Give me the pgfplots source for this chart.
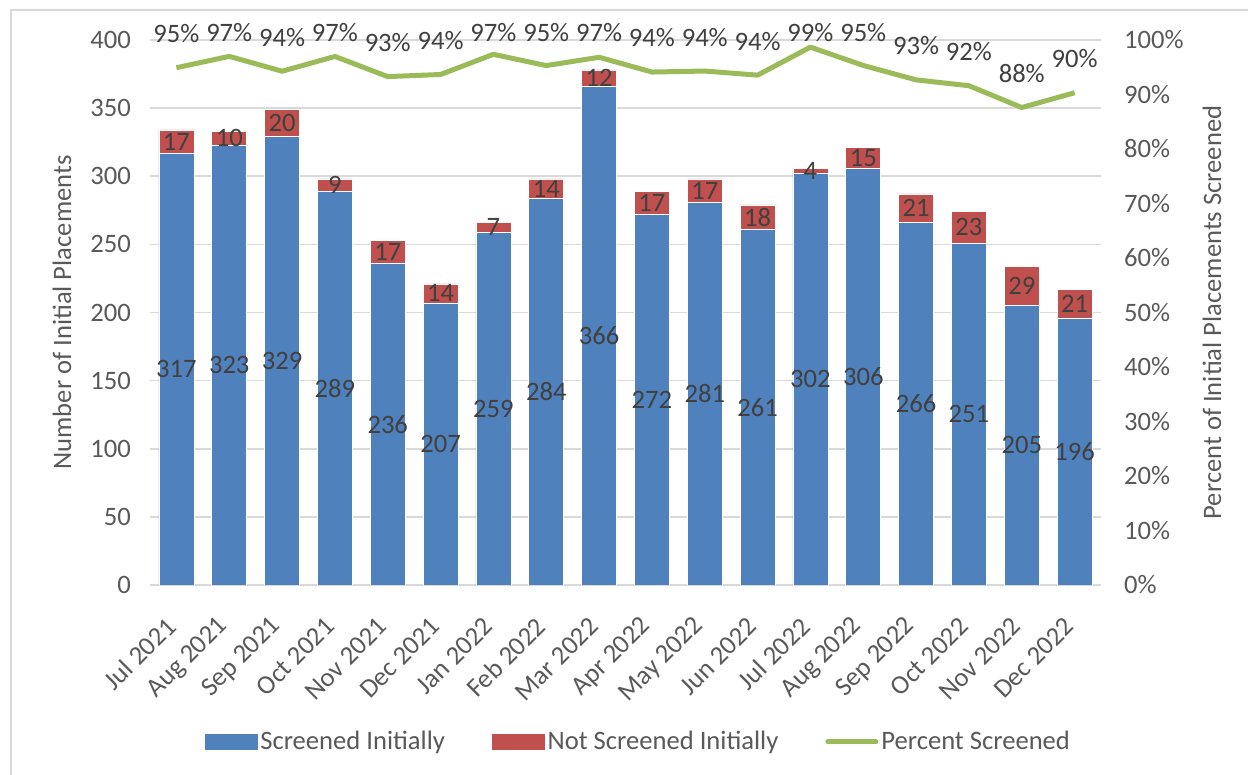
\documentclass[border=0pt]{standalone}
\usepackage{pgfplots}
\usepackage{pgfplotstable}
\pgfplotsset{compat=1.18}
\usepackage{fontspec}
\setmainfont{Carlito}
\definecolor{blueC}{HTML}{4F81BD}
\definecolor{redC}{HTML}{C0504D}
\definecolor{greenC}{HTML}{9BBB59}
\definecolor{txt}{HTML}{595959}
\definecolor{lbl}{HTML}{404040}
\definecolor{grid}{HTML}{D9D9D9}
\newcommand{\chartfont}{\fontsize{13.3}{16}\selectfont}
\pgfplotstableread{
x s n p
0 317 17 94.91
1 323 10 97.00
2 329 20 94.27
3 289 9 96.98
4 236 17 93.28
5 207 14 93.67
6 259 7 97.37
7 284 14 95.30
8 366 12 96.83
9 272 17 94.12
10 281 17 94.30
11 261 18 93.55
12 302 4 98.69
13 306 15 95.33
14 266 21 92.68
15 251 23 91.61
16 205 29 87.61
17 196 21 90.32
}\datatable
\pgfplotsset{
  /pgf/number format/assume math mode=true,
  common/.style={
    width=475.5pt, height=272.5pt, scale only axis,
    at={(0,0)}, anchor=south west,
    xmin=-0.5, xmax=17.5,
  },
}
\begin{document}
\begin{tikzpicture}
\path[use as bounding box] (-75pt,-95pt) rectangle (549pt,292.5pt);
\draw[grid, line width=0.8pt] (-69.5pt,-95pt) -- (-69.5pt,287.5pt) -- (549pt,287.5pt);
% bars
\begin{axis}[common,
  ybar stacked, bar width=17.5pt,
  ymin=0, ymax=400, ytick={0,50,...,400},
  axis lines*=left,
  y axis line style={draw=none},
  x axis line style={draw=grid, line width=0.8pt},
  tick style={draw=none},
  ymajorgrids, major grid style={draw=grid, line width=0.8pt},
  xtick={0,...,17},
  xticklabels={Jul 2021,Aug 2021,Sep 2021,Oct 2021,Nov 2021,Dec 2021,Jan 2022,Feb 2022,Mar 2022,Apr 2022,May 2022,Jun 2022,Jul 2022,Aug 2022,Sep 2022,Oct 2022,Nov 2022,Dec 2022},
  xticklabel style={font=\chartfont, color=txt, rotate=45, anchor=east, inner sep=0pt, xshift=-14.85pt, yshift=-11.3pt},
  yticklabel style={font=\chartfont, color=txt, xshift=-6pt},
  ylabel={Number of Initial Placements},
  ylabel style={font=\chartfont, color=txt, at={(axis description cs:-0.0925,0.5)}, anchor=center},
  legend style={at={(axis description cs:0.514,-0.288)}, anchor=center, draw=none, font=\chartfont, text=txt,
    legend columns=3, nodes={inner sep=1.5pt},
    /tikz/column 2/.style={column sep=22pt}, /tikz/column 4/.style={column sep=22pt}},
]
\addplot[fill=blueC, draw=white, line width=0.3pt,
  legend image code/.code={\fill[blueC] (0pt,-3.75pt) rectangle (26pt,3.75pt);}]
  table[x=x, y=s] {\datatable};
\addlegendentry{Screened Initially}
\addplot[fill=redC, draw=white, line width=0.3pt,
  legend image code/.code={\fill[redC] (0pt,-3.75pt) rectangle (26pt,3.75pt);}]
  table[x=x, y=n] {\datatable};
\addlegendentry{Not Screened Initially}
\addlegendimage{legend image code/.code={\draw[greenC, line width=2.5pt, line cap=round] (0pt,0pt) -- (24pt,0pt);}}
\addlegendentry{Percent Screened}
\end{axis}
% bar labels
\begin{axis}[common, hide axis, ymin=0, ymax=400,
  nodes near coords, nodes near coords style={font=\chartfont, color=lbl, anchor=center, inner sep=0pt}]
\addplot[draw=none, mark=none, point meta=explicit] table[x=x, y expr=\thisrow{s}/2, meta=s] {\datatable};
\addplot[draw=none, mark=none, point meta=explicit] table[x=x, y expr=\thisrow{s}+\thisrow{n}/2, meta=n] {\datatable};
\end{axis}
% percent
\begin{axis}[common,
  ymin=0, ymax=100, ytick={0,10,...,100}, clip=false,
  axis y line*=right, axis x line=none,
  y axis line style={draw=none}, tick style={draw=none},
  yticklabel={\pgfmathprintnumber{\tick}\%},
  yticklabel style={font=\chartfont, color=txt, xshift=8pt},
  ylabel={Percent of Initial Placements Screened},
  ylabel style={font=\chartfont, color=txt, at={(axis description cs:1.1167,0.5)}, anchor=center},
]
\addplot[greenC, line width=2.5pt, mark=none, line join=round] table[x=x, y=p] {\datatable};
\addplot[draw=none, mark=none, point meta=explicit,
  nodes near coords={\pgfmathprintnumber[fixed,precision=0]{\pgfplotspointmeta}\%},
  nodes near coords style={font=\chartfont, color=lbl, anchor=center, inner sep=0pt}]
  table[x=x, y expr={min(\thisrow{p}+6.24,101.38)}, meta=p] {\datatable};
\end{axis}
\end{tikzpicture}
\end{document}
